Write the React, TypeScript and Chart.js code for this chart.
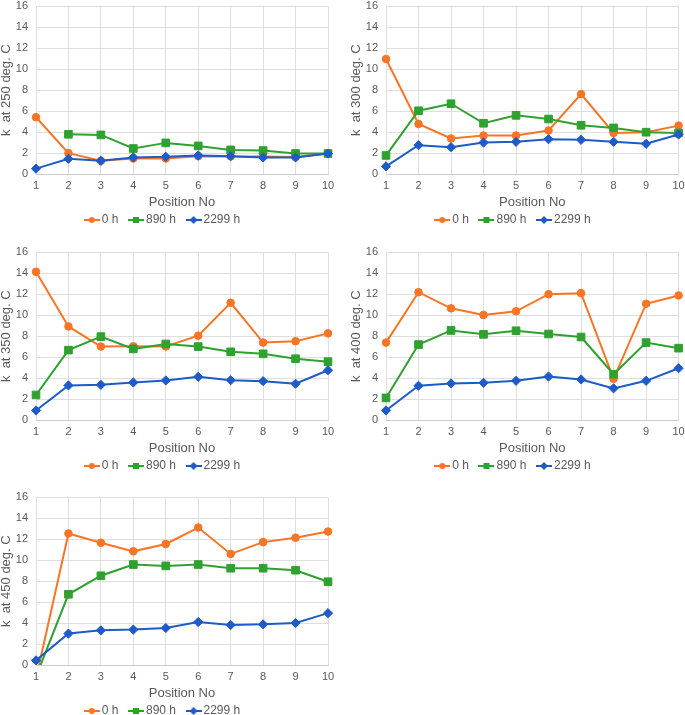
import React, { useEffect, useRef } from 'react';
import { Chart, registerables } from 'chart.js';

Chart.register(...registerables);

// ---------- data ----------
const positions = ['1', '2', '3', '4', '5', '6', '7', '8', '9', '10'];
const seriesNames = ['0 h', '890 h', '2299 h'];
const yTicksMin = 0;
const yTicksMax = 16;
const yTickStep = 2;
const xTitle = 'Position No';

const k250_0h = [5.42, 1.99, 1.26, 1.48, 1.48, 1.7, 1.68, 1.68, 1.62, 1.95];
const k250_890h = [null, 3.79, 3.73, 2.43, 2.97, 2.68, 2.3, 2.24, 1.96, 1.96];
const k250_2299h = [0.51, 1.45, 1.26, 1.58, 1.64, 1.77, 1.7, 1.58, 1.58, 1.95];

const k300_0h = [10.98, 4.78, 3.39, 3.67, 3.67, 4.15, 7.63, 3.92, 3.99, 4.62];
const k300_890h = [1.77, 6.04, 6.71, 4.84, 5.6, 5.25, 4.65, 4.4, 3.99, 3.92];
const k300_2299h = [0.73, 2.75, 2.56, 3.0, 3.07, 3.32, 3.26, 3.07, 2.88, 3.77];

const k350_0h = [14.15, 8.93, 7.01, 7.04, 7.01, 8.05, 11.19, 7.39, 7.52, 8.27];
const k350_890h = [2.39, 6.67, 7.96, 6.79, 7.26, 7.01, 6.51, 6.32, 5.85, 5.57];
const k350_2299h = [0.91, 3.3, 3.36, 3.58, 3.77, 4.12, 3.8, 3.71, 3.46, 4.75];

const k400_0h = [7.39, 12.2, 10.66, 10.03, 10.38, 12.01, 12.11, 3.93, 11.1, 11.89];
const k400_890h = [2.11, 7.2, 8.55, 8.18, 8.52, 8.21, 7.92, 4.37, 7.39, 6.86];
const k400_2299h = [0.91, 3.27, 3.49, 3.55, 3.74, 4.15, 3.87, 3.02, 3.74, 4.94];

const k450_0h = [-1.3, 12.56, 11.67, 10.85, 11.55, 13.12, 10.6, 11.73, 12.15, 12.74];
const k450_890h = [-1.1, 6.75, 8.52, 9.59, 9.46, 9.59, 9.24, 9.24, 9.05, 7.95];
const k450_2299h = [0.44, 3.0, 3.31, 3.38, 3.53, 4.1, 3.82, 3.88, 4.01, 4.95];

// ---------- style ----------
const COLORS = ['#F97424', '#2FA12F', '#1E5BC8'];
const POINT_STYLES = ['circle', 'rect', 'rectRot'];
const POINT_RADII = [3.8, 5.4, 4.6];
const FONT = "'Liberation Sans', Arial, Helvetica, sans-serif";
const TEXT_COLOR = '#595959';
const GRID_COLOR = '#DEDEDE';

function makeIcon(color: string, style: string): HTMLCanvasElement {
  const c = document.createElement('canvas');
  c.width = 16;
  c.height = 10;
  const ctx = c.getContext('2d')!;
  ctx.strokeStyle = color;
  ctx.fillStyle = color;
  ctx.lineWidth = 2;
  ctx.beginPath();
  ctx.moveTo(0, 5);
  ctx.lineTo(16, 5);
  ctx.stroke();
  ctx.beginPath();
  if (style === 'circle') {
    ctx.arc(8, 5, 3, 0, Math.PI * 2);
  } else if (style === 'rect') {
    ctx.rect(5, 2, 6, 6);
  } else {
    ctx.moveTo(8, 1);
    ctx.lineTo(12, 5);
    ctx.lineTo(8, 9);
    ctx.lineTo(4, 5);
    ctx.closePath();
  }
  ctx.fill();
  return c;
}

type PanelProps = {
  temp: string;
  series: (number | null)[][];
  left: number;
  top: number;
  width: number;
  height: number;
  rightPad: number;
};

function Panel({ temp, series, left, top, width, height, rightPad }: PanelProps) {
  const ref = useRef<HTMLCanvasElement | null>(null);

  useEffect(() => {
    if (!ref.current) return;
    const icons = COLORS.map((c, i) => makeIcon(c, POINT_STYLES[i]));
    const chart = new Chart(ref.current, {
      type: 'line',
      data: {
        labels: positions,
        datasets: series.map((d, i) => ({
          label: seriesNames[i],
          data: d,
          borderColor: COLORS[i],
          backgroundColor: COLORS[i],
          borderWidth: 2,
          pointStyle: POINT_STYLES[i] as any,
          pointRadius: POINT_RADII[i],
          pointBorderWidth: 1,
          pointBackgroundColor: COLORS[i],
          pointBorderColor: COLORS[i],
          tension: 0,
          order: 3 - i,
          spanGaps: false,
        })),
      },
      options: {
        responsive: false,
        animation: false,
        devicePixelRatio: 1,
        layout: { padding: { left: 0, right: rightPad, top: 5, bottom: 4 } },
        plugins: {
          tooltip: { enabled: false },
          legend: {
            position: 'bottom',
            labels: {
              usePointStyle: true,
              pointStyleWidth: 8,
              padding: 13.5,
              color: TEXT_COLOR,
              font: { family: FONT, size: 12 },
              generateLabels: (ch: any) => {
                const items = Chart.defaults.plugins.legend.labels.generateLabels(ch);
                return items
                  .sort((a: any, b: any) => a.datasetIndex - b.datasetIndex)
                  .map((it: any) => ({ ...it, pointStyle: icons[it.datasetIndex] }));
              },
            },
          },
        },
        scales: {
          x: {
            type: 'category',
            offset: false,
            grid: { color: GRID_COLOR, drawTicks: false, lineWidth: 1 },
            border: { color: '#C9CCD4', width: 1 },
            ticks: {
              color: TEXT_COLOR,
              font: { family: FONT, size: 11 },
              padding: 5.4,
              maxRotation: 0,
              autoSkip: false,
            },
            title: {
              display: true,
              text: xTitle,
              color: TEXT_COLOR,
              font: { family: FONT, size: 13 },
              padding: { top: 0, bottom: -9.3 },
            },
            afterFit: (scale: any) => {
              scale.height = 26.5;
              scale.paddingLeft = 0;
              scale.paddingRight = 0;
            },
          },
          y: {
            min: yTicksMin,
            max: yTicksMax,
            grid: { color: GRID_COLOR, drawTicks: false, lineWidth: 1 },
            border: { display: false },
            ticks: {
              stepSize: yTickStep,
              color: TEXT_COLOR,
              font: { family: FONT, size: 11 },
              padding: 8,
            },
            title: {
              display: true,
              text: `k  at ${temp} deg. C`,
              color: TEXT_COLOR,
              font: { family: FONT, size: 13 },
              padding: { top: -1, bottom: 0 },
            },
            afterFit: (scale: any) => {
              scale.width = 36;
              scale.paddingTop = 0;
              scale.paddingBottom = 0;
            },
          },
        },
      } as any,
    });
    return () => chart.destroy();
  }, [temp, series, rightPad]);

  return (
    <div style={{ position: 'absolute', left, top, width, height }}>
      <canvas ref={ref} width={width} height={height} style={{ display: 'block', width, height }} />
    </div>
  );
}

const panels: PanelProps[] = [
  { temp: '250', series: [k250_0h, k250_890h, k250_2299h], left: 0, top: 0, width: 342, height: 240, rightPad: 14 },
  { temp: '300', series: [k300_0h, k300_890h, k300_2299h], left: 350, top: 0, width: 335, height: 240, rightPad: 6 },
  { temp: '350', series: [k350_0h, k350_890h, k350_2299h], left: 0, top: 246, width: 342, height: 240, rightPad: 14 },
  { temp: '400', series: [k400_0h, k400_890h, k400_2299h], left: 350, top: 246, width: 335, height: 240, rightPad: 6 },
  { temp: '450', series: [k450_0h, k450_890h, k450_2299h], left: 0, top: 491, width: 342, height: 240, rightPad: 14 },
];

export default function App() {
  return (
    <div
      style={{
        position: 'absolute',
        left: 0,
        top: 0,
        width: 685,
        height: 715,
        overflow: 'hidden',
        background: '#ffffff',
      }}
    >
      {panels.map((p) => (
        <Panel key={p.temp} {...p} />
      ))}
    </div>
  );
}
